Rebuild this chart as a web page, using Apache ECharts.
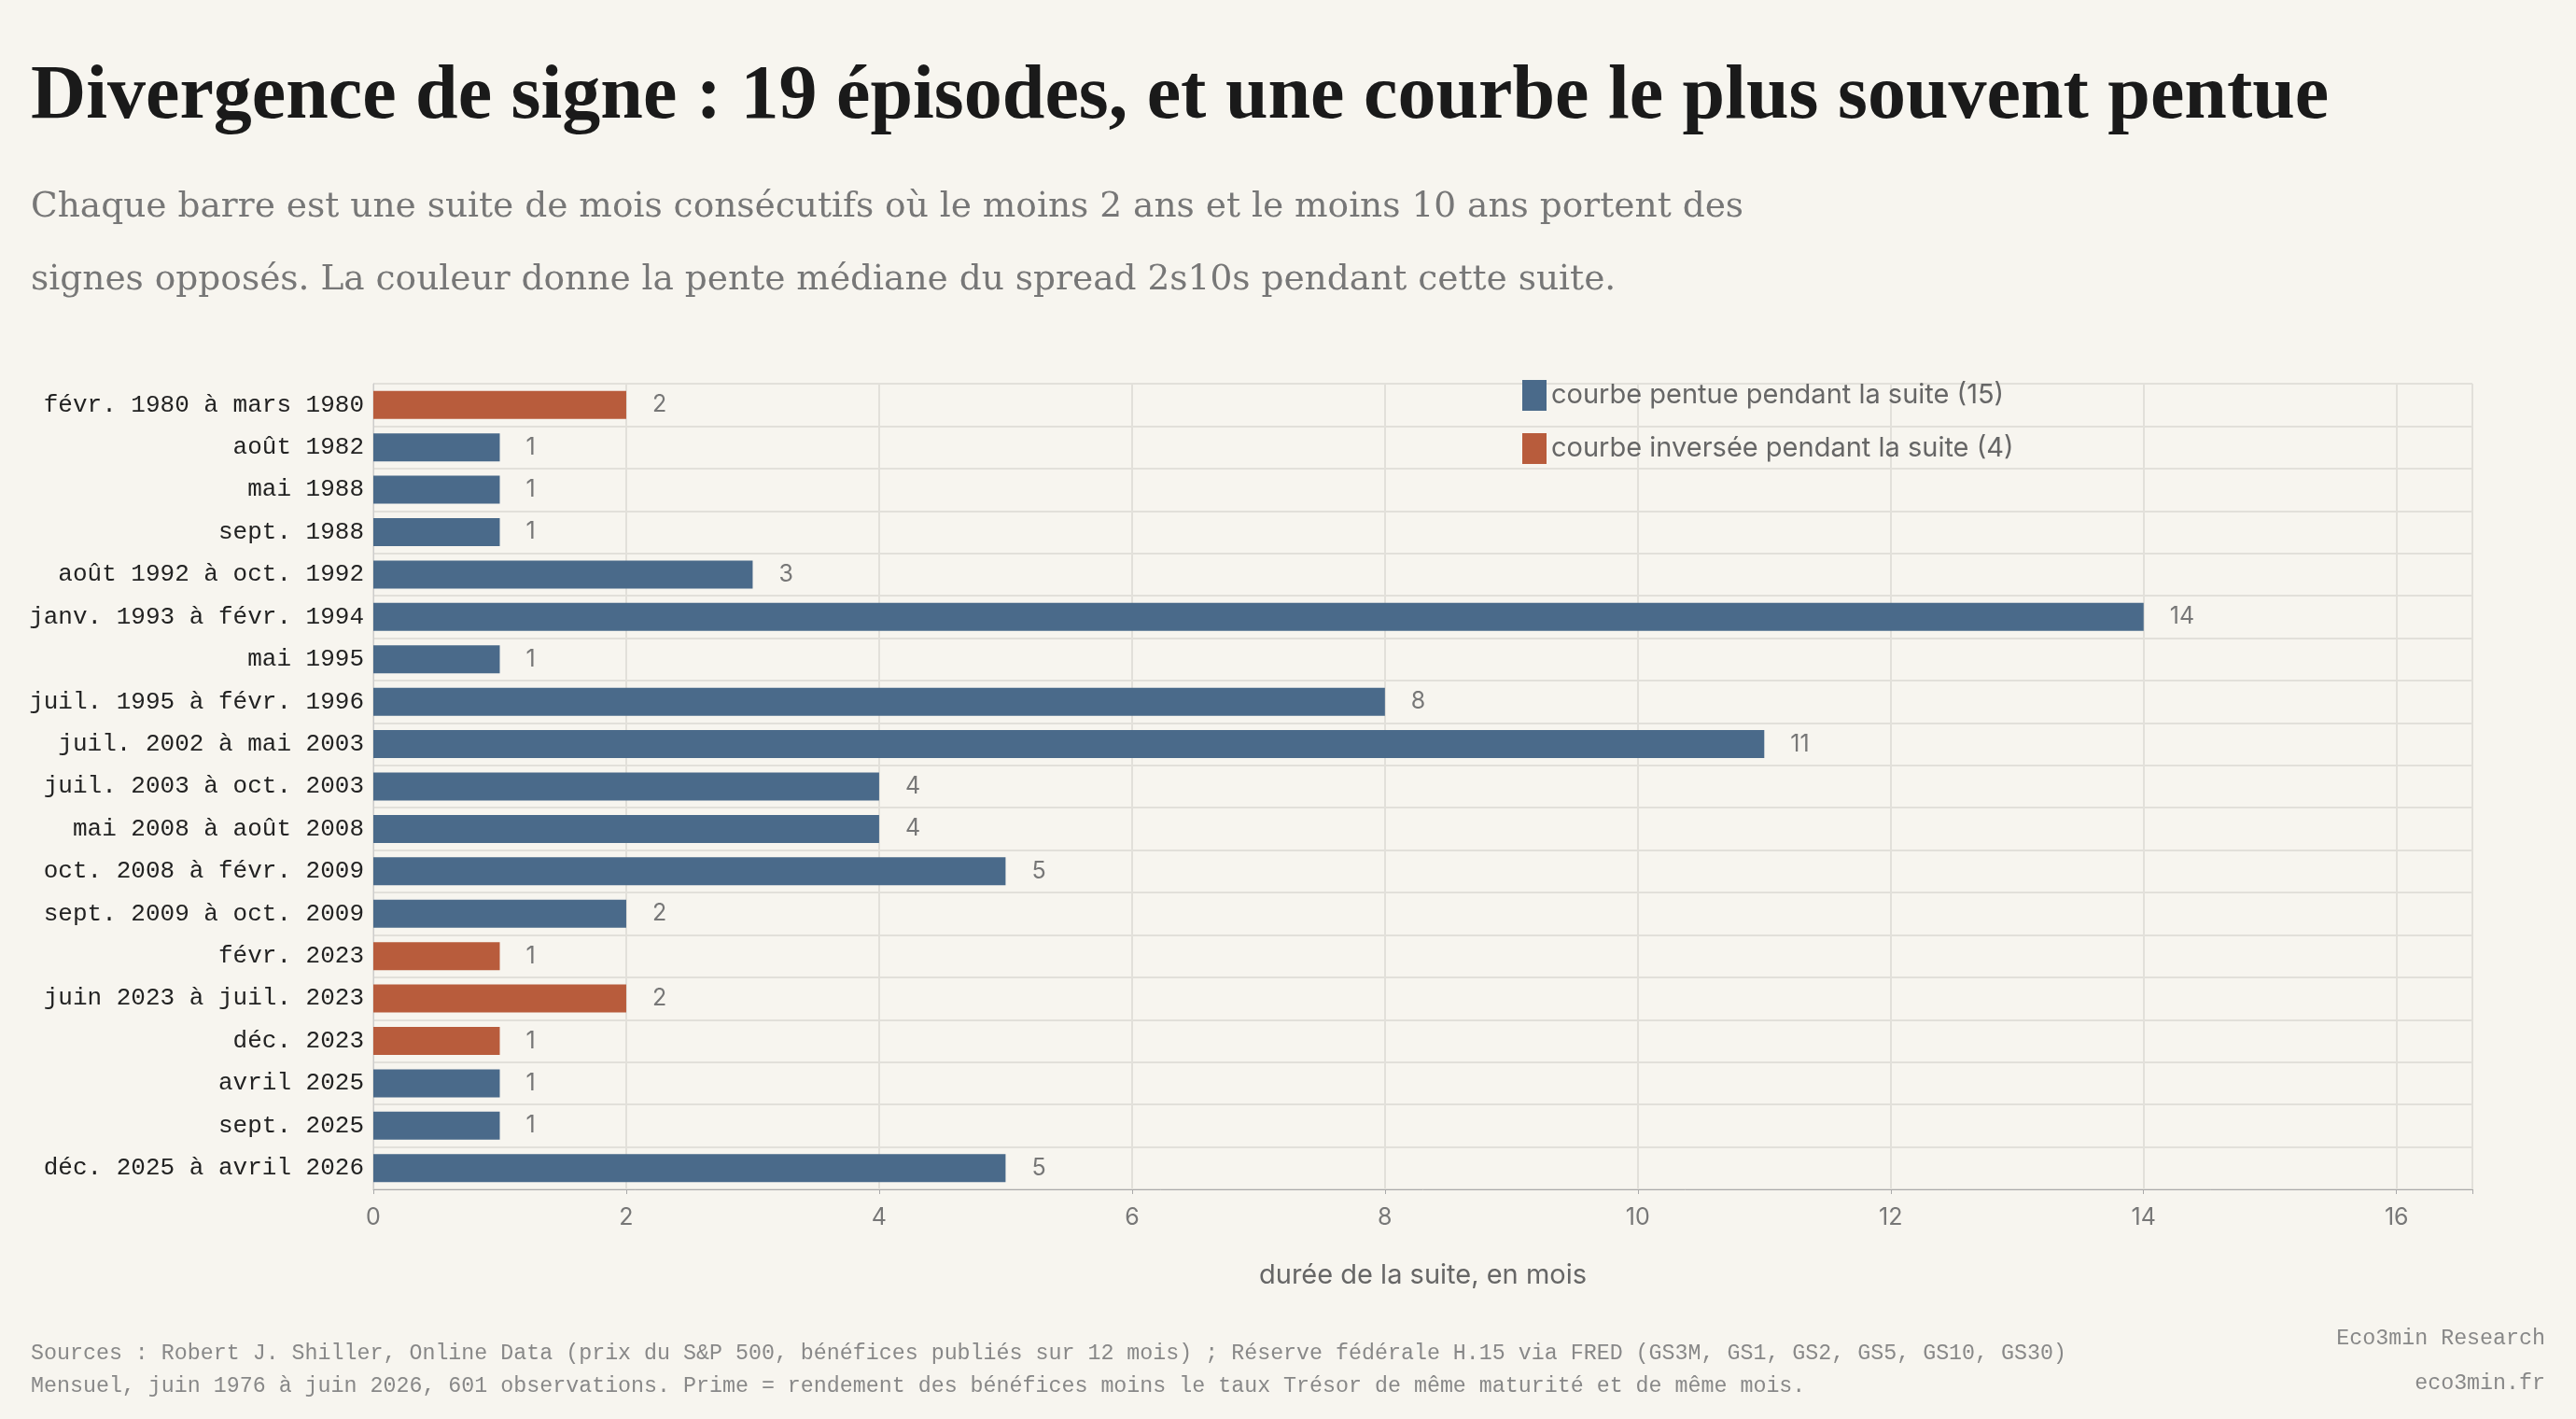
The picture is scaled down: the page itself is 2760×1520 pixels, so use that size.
<!DOCTYPE html>
<html><head><meta charset="utf-8">
<script src="https://cdn.jsdelivr.net/npm/echarts@6/dist/echarts.min.js"></script>
<style>html,body{margin:0;padding:0;background:#f7f5ef}#c{width:2760px;height:1520px}</style>
</head><body><div id="c"></div>
<script>
const categories = ["févr. 1980 à mars 1980","août 1982","mai 1988","sept. 1988","août 1992 à oct. 1992","janv. 1993 à févr. 1994","mai 1995","juil. 1995 à févr. 1996","juil. 2002 à mai 2003","juil. 2003 à oct. 2003","mai 2008 à août 2008","oct. 2008 à févr. 2009","sept. 2009 à oct. 2009","févr. 2023","juin 2023 à juil. 2023","déc. 2023","avril 2025","sept. 2025","déc. 2025 à avril 2026"];
const durations = [2,1,1,1,3,14,1,8,11,4,4,5,2,1,2,1,1,1,5];
const inverted = [true,false,false,false,false,false,false,false,false,false,false,false,false,true,true,true,false,false,false];
const BLUE="#4a6a8a", RED="#b85c3c";
const steep = durations.map((v,i)=>inverted[i]?'-':v);
const inv = durations.map((v,i)=>inverted[i]?v:'-');
const lbl = {show:true,position:'right',distance:28,color:'#777',fontFamily:'Inter',fontSize:25};
const chart = echarts.init(document.getElementById('c'));
chart.setOption({
  backgroundColor:'#f7f5ef',
  textStyle:{fontFamily:'Inter'},
  grid:{left:400,right:111,top:411,bottom:246,containLabel:false},
  graphic:[
    {type:'text',left:33,top:64,style:{text:'Divergence de signe : 19 épisodes, et une courbe le plus souvent pentue',font:'bold 82px "Liberation Serif"',fill:'#1a1a1a'}},
    {type:'text',left:33,top:203,style:{text:'Chaque barre est une suite de mois consécutifs où le moins 2 ans et le moins 10 ans portent des',font:'37.5px "DejaVu Serif"',fill:'#777'}},
    {type:'text',left:33,top:281,style:{text:'signes opposés. La couleur donne la pente médiane du spread 2s10s pendant cette suite.',font:'37.5px "DejaVu Serif"',fill:'#777'}},
    {type:'text',left:33,top:1438,style:{text:'Sources : Robert J. Shiller, Online Data (prix du S&P 500, bénéfices publiés sur 12 mois) ; Réserve fédérale H.15 via FRED (GS3M, GS1, GS2, GS5, GS10, GS30)',font:'23.3px "Liberation Mono"',fill:'#888'}},
    {type:'text',left:33,top:1473,style:{text:'Mensuel, juin 1976 à juin 2026, 601 observations. Prime = rendement des bénéfices moins le taux Trésor de même maturité et de même mois.',font:'23.3px "Liberation Mono"',fill:'#888'}},
    {type:'text',right:33,top:1422,style:{text:'Eco3min Research',font:'23.3px "Liberation Mono"',fill:'#888'}},
    {type:'text',right:33,top:1470,style:{text:'eco3min.fr',font:'23.3px "Liberation Mono"',fill:'#888'}}
  ],
  legend:{left:1626,top:402,orient:'vertical',itemGap:24,itemWidth:26,itemHeight:33,icon:'rect',textStyle:{color:'#666',fontSize:29,fontFamily:'Inter'},
    data:['courbe pentue pendant la suite (15)','courbe inversée pendant la suite (4)']},
  xAxis:{type:'value',min:0,max:16.6,interval:2,
    name:'durée de la suite, en mois',nameLocation:'middle',nameGap:78,nameTextStyle:{color:'#666',fontSize:29},
    axisLabel:{color:'#777',fontSize:25,margin:18,formatter:v=>v%2===0?v:''},
    axisLine:{show:true,lineStyle:{color:'#aaa'}},axisTick:{show:true,lineStyle:{color:'#aaa'}},
    splitLine:{lineStyle:{color:'#e2e0da',width:2}}},
  yAxis:{type:'category',data:categories,inverse:true,
    axisLabel:{color:'#222',fontSize:26,fontFamily:'Liberation Mono',margin:10},
    axisLine:{lineStyle:{color:'#ccc'}},axisTick:{show:false},
    splitLine:{show:true,interval:0,lineStyle:{color:'#e2e0da',width:2}}},
  series:[
    {name:'courbe pentue pendant la suite (15)',type:'bar',stack:'s',data:steep,barWidth:30,itemStyle:{color:BLUE},label:lbl},
    {name:'courbe inversée pendant la suite (4)',type:'bar',stack:'s',data:inv,barWidth:30,itemStyle:{color:RED},label:lbl}
  ]
});
</script></body></html>
